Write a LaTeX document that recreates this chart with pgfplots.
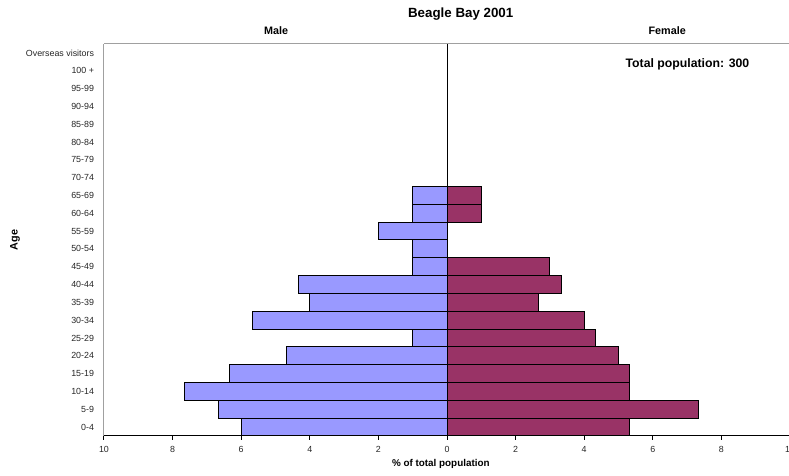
\documentclass[border=0pt]{standalone}
\usepackage{fontspec}
\setmainfont{Liberation Sans}
\usepackage{pgfplots}
\pgfplotsset{compat=1.18}
\definecolor{maleblue}{HTML}{9999FF}
\definecolor{femalered}{HTML}{993366}
\definecolor{frame}{HTML}{A0A0A0}
\begin{document}
\begin{tikzpicture}
\begin{axis}[
  scale only axis, width=514.5pt, height=294pt,
  xmin=-10, xmax=10, ymin=-0.5, ymax=21.5,
  clip=false,
  axis x line*=bottom, axis y line*=left,
  x axis line style={black, line width=0.75pt, -},
  y axis line style={frame, line width=0.75pt, -},
  xtick={-10,-8,...,10},
  xticklabels={10,8,6,4,2,0,2,4,6,8,10},
  ytick={0,...,21},
  yticklabels={0-4,5-9,10-14,15-19,20-24,25-29,30-34,35-39,40-44,45-49,50-54,55-59,60-64,65-69,70-74,75-79,80-84,85-89,90-94,95-99,100 +,Overseas visitors},
  tick label style={font=\fontsize{6.65}{8}\selectfont, text=black!85},
  /pgf/number format/assume math mode=true,
  x tick style={black, line width=0.75pt},
  y tick style={draw=none},
  tick align=outside, major tick length=3pt,
  xticklabel style={yshift=-1pt},
  yticklabel style={xshift=-1pt},
]
\addplot[xbar, bar width=1, bar shift=0pt, fill=maleblue, draw=black, line width=0.75pt]
  coordinates {(-6,0) (-6.667,1) (-7.667,2) (-6.333,3) (-4.667,4) (-1,5) (-5.667,6) (-4,7) (-4.333,8) (-1,9) (-1,10) (-2,11) (-1,12) (-1,13)};
\addplot[xbar, bar width=1, bar shift=0pt, fill=femalered, draw=black, line width=0.75pt]
  coordinates {(5.333,0) (7.333,1) (5.333,2) (5.333,3) (5,4) (4.333,5) (4,6) (2.667,7) (3.333,8) (3,9) (1,12) (1,13)};
\draw[black, line width=0.75pt] (axis cs:0,-0.5) -- (axis cs:0,21.5);
\draw[frame, line width=0.75pt] (rel axis cs:0,1) -- (rel axis cs:1,1);
\coordinate (SW) at (rel axis cs:0,0);
\coordinate (NE) at (rel axis cs:1,1);
\node[font=\bfseries\fontsize{10}{12}\selectfont] at (rel axis cs:0.520,1.0765) {Beagle Bay 2001};
\node[font=\bfseries\fontsize{8.1}{10}\selectfont] at (rel axis cs:0.251,1.033) {Male};
\node[font=\bfseries\fontsize{8.1}{10}\selectfont] at (rel axis cs:0.821,1.033) {Female};
\node[font=\bfseries\fontsize{9.2}{11}\selectfont] at (rel axis cs:0.8505,0.949) {Total population: 300};
\node[font=\bfseries\fontsize{8.1}{10}\selectfont, rotate=90] at (rel axis cs:-0.1297,0.5) {Age};
\node[font=\bfseries\fontsize{7.4}{9}\selectfont] at (rel axis cs:0.491,-0.0714) {\% of total population};
\end{axis}
\pgfresetboundingbox
\useasboundingbox ([shift={(-78pt,-30pt)}]SW) rectangle ([shift={(-0.75pt,33pt)}]NE);
\end{tikzpicture}
\end{document}
